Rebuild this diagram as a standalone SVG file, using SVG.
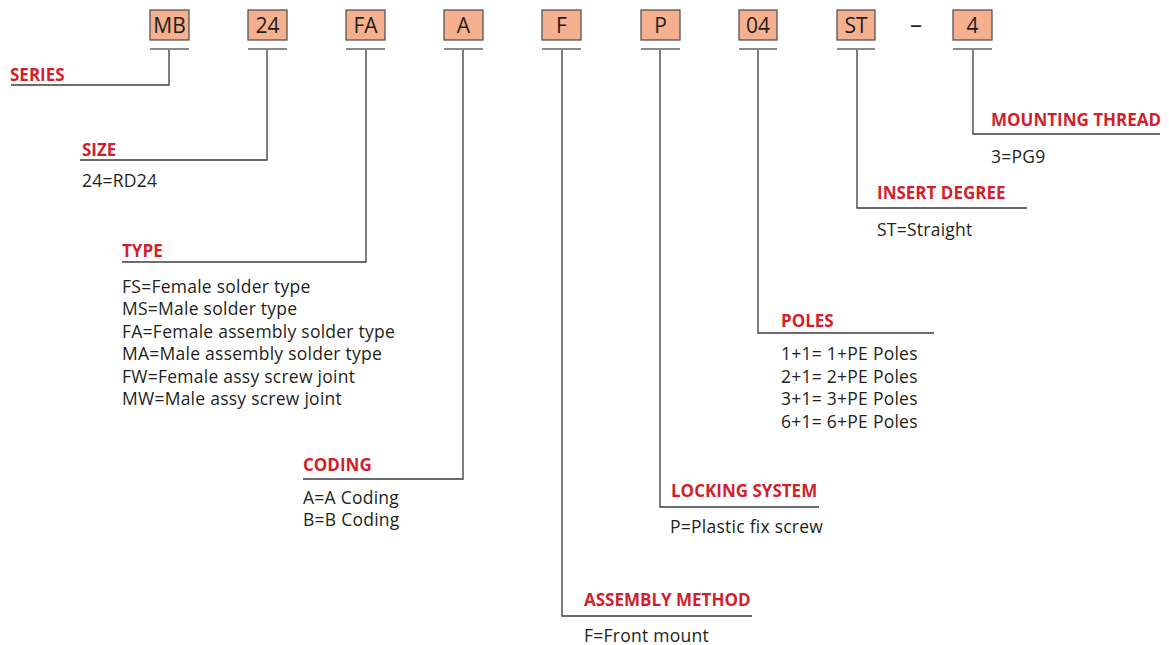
<svg xmlns="http://www.w3.org/2000/svg" width="1169" height="645" viewBox="0 0 1169 645">
<style>
.box rect{fill:#f5b090;stroke:#4a4a4a;stroke-width:1.2}
.box text{font-family:"Open Sans","Liberation Sans",sans-serif;font-size:21px;fill:#231f20;text-anchor:middle}
.bar{stroke:#8c8888;stroke-width:2}
.conn{fill:none;stroke:#3c3a3a;stroke-width:1.3}
.lbl{font-family:"Open Sans","Liberation Sans",sans-serif;font-size:17px;font-weight:bold;fill:#d11f2d}
.val{font-family:"Open Sans","Liberation Sans",sans-serif;font-size:17.5px;fill:#231f20;letter-spacing:0.25px}
</style>
<rect width="1169" height="645" fill="#fff"/>
<g id="codes">
<g id="box-MB" class="box"><rect x="150" y="10" width="39" height="30"/><text x="169.5" y="33">MB</text><line class="bar" x1="150" y1="49" x2="189" y2="49"/></g>
<g id="box-24" class="box"><rect x="248" y="10" width="39" height="30"/><text x="267.5" y="33">24</text><line class="bar" x1="248" y1="49" x2="287" y2="49"/></g>
<g id="box-FA" class="box"><rect x="346" y="10" width="39" height="30"/><text x="365.5" y="33">FA</text><line class="bar" x1="346" y1="49" x2="385" y2="49"/></g>
<g id="box-A" class="box"><rect x="444" y="10" width="39" height="30"/><text x="463.5" y="33">A</text><line class="bar" x1="444" y1="49" x2="483" y2="49"/></g>
<g id="box-F" class="box"><rect x="542" y="10" width="39" height="30"/><text x="561.5" y="33">F</text><line class="bar" x1="542" y1="49" x2="581" y2="49"/></g>
<g id="box-P" class="box"><rect x="641" y="10" width="39" height="30"/><text x="660.5" y="33">P</text><line class="bar" x1="641" y1="49" x2="680" y2="49"/></g>
<g id="box-04" class="box"><rect x="739" y="10" width="38" height="30"/><text x="758" y="33">04</text><line class="bar" x1="739" y1="49" x2="777" y2="49"/></g>
<g id="box-ST" class="box"><rect x="837" y="10" width="38" height="30"/><text x="856" y="33">ST</text><line class="bar" x1="837" y1="49" x2="875" y2="49"/></g>
<text x="916" y="33" font-family="Open Sans, Liberation Sans, sans-serif" font-size="24" fill="#231f20" text-anchor="middle">–</text>
<g id="box-4" class="box"><rect x="953" y="10" width="39" height="30"/><text x="972.5" y="33">4</text><line class="bar" x1="953" y1="49" x2="992" y2="49"/></g>
</g>
<g id="connectors">
<polyline class="conn" points="169,50 169,85 11,85"/>
<polyline class="conn" points="267,50 267,160 80,160"/>
<polyline class="conn" points="366,50 366,262 122,262"/>
<polyline class="conn" points="463,50 463,479 303,479"/>
<polyline class="conn" points="562,50 562,616 752,616"/>
<polyline class="conn" points="660,50 660,507 819,507"/>
<polyline class="conn" points="758,50 758,333 934,333"/>
<polyline class="conn" points="857,50 857,208 1027,208"/>
<polyline class="conn" points="973,50 973,134 1160,134"/>
</g>
<g id="series"><text class="lbl" x="10" y="81">SERIES</text></g>
<g id="size"><text class="lbl" x="82" y="156">SIZE</text><text class="val" x="82" y="187">24=RD24</text></g>
<g id="type"><text class="lbl" x="122" y="257">TYPE</text>
<text class="val" x="122" y="293">FS=Female solder type</text>
<text class="val" x="122" y="315">MS=Male solder type</text>
<text class="val" x="122" y="338">FA=Female assembly solder type</text>
<text class="val" x="122" y="360">MA=Male assembly solder type</text>
<text class="val" x="122" y="383">FW=Female assy screw joint</text>
<text class="val" x="122" y="405">MW=Male assy screw joint</text></g>
<g id="coding"><text class="lbl" x="303" y="471">CODING</text>
<text class="val" x="303" y="504">A=A Coding</text>
<text class="val" x="303" y="526">B=B Coding</text></g>
<g id="assembly"><text class="lbl" x="584" y="606">ASSEMBLY METHOD</text>
<text class="val" x="584" y="642">F=Front mount</text></g>
<g id="locking"><text class="lbl" x="671" y="497">LOCKING SYSTEM</text>
<text class="val" x="670" y="533">P=Plastic fix screw</text></g>
<g id="poles"><text class="lbl" x="781" y="327">POLES</text>
<text class="val" x="781" y="360">1+1= 1+PE Poles</text>
<text class="val" x="781" y="383">2+1= 2+PE Poles</text>
<text class="val" x="781" y="405">3+1= 3+PE Poles</text>
<text class="val" x="781" y="428">6+1= 6+PE Poles</text></g>
<g id="insert"><text class="lbl" x="877" y="199">INSERT DEGREE</text>
<text class="val" x="877" y="236">ST=Straight</text></g>
<g id="thread"><text class="lbl" x="991" y="126">MOUNTING THREAD</text>
<text class="val" x="991" y="163">3=PG9</text></g>
</svg>
